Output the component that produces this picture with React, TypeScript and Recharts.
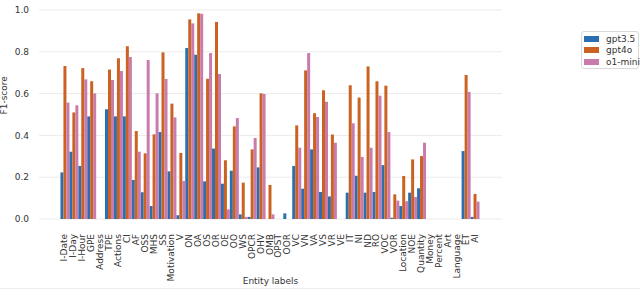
import React from "react";
import { BarChart, Bar, XAxis, YAxis, CartesianGrid, Legend } from "recharts";

const labels = [
  "I-Date", "I-Day", "I-Hour", "GPE", "Address", "TPE", "Actions", "CI", "AF", "OSS",
  "MHS", "SS", "Motivation", "V", "ON", "OA", "OS", "OR", "OE", "OO",
  "WS", "OPCR", "OHV", "OMB", "OPST", "OOR", "VC", "VN", "VA", "VS",
  "VR", "VE", "IT", "NI", "ND", "RO", "VOC", "VOR", "Location", "NOE",
  "Quantity", "Money", "Percent", "Art", "Language", "ET", "AI",
];

const gpt35 = [
  0.223, 0.322, 0.254, 0.491, 0, 0.525, 0.491, 0.491, 0.187, 0.128,
  0.062, 0.416, 0.228, 0.018, 0.818, 0.786, 0.18, 0.337, 0.169, 0.231,
  0.022, 0.01, 0.247, 0, 0, 0.027, 0.254, 0.145, 0.333, 0.129,
  0.108, 0, 0.126, 0.207, 0.126, 0.129, 0.258, 0.006, 0.062, 0.126,
  0.147, 0, 0, 0, 0, 0.325, 0.01,
];

const gpt4o = [
  0.732, 0.51, 0.722, 0.659, 0, 0.715, 0.769, 0.826, 0.421, 0.314,
  0.405, 0.797, 0.552, 0.316, 0.955, 0.984, 0.671, 0.943, 0.281, 0.443,
  0.174, 0.333, 0.601, 0.163, 0, 0, 0.448, 0.711, 0.506, 0.616,
  0.404, 0, 0.64, 0.581, 0.73, 0.659, 0.638, 0.118, 0.206, 0.285,
  0.301, 0, 0, 0, 0, 0.689, 0.12,
];

const o1mini = [
  0.557, 0.544, 0.668, 0.601, 0, 0.665, 0.708, 0.775, 0.322, 0.761,
  0.601, 0.67, 0.486, 0.182, 0.936, 0.982, 0.794, 0.694, 0.046, 0.483,
  0.01, 0.388, 0.598, 0.022, 0, 0, 0.341, 0.794, 0.488, 0.561,
  0.365, 0, 0.458, 0.297, 0.341, 0.59, 0.416, 0.088, 0.085, 0.105,
  0.365, 0, 0, 0, 0, 0.608, 0.083,
];

const yTicks = [0, 0.2, 0.4, 0.6, 0.8, 1.0];

const series = [
  { key: "gpt35", name: "gpt3.5", color: "#2b6fb0" },
  { key: "gpt4o", name: "gpt4o", color: "#cb6221" },
  { key: "o1mini", name: "o1-mini", color: "#c97bab" },
];

const data = labels.map((label, i) => ({
  label,
  gpt35: gpt35[i],
  gpt4o: gpt4o[i],
  o1mini: o1mini[i],
}));

const FONT = "DejaVu Sans, sans-serif";

function RotatedTick(props: any) {
  const { x, y, payload } = props;
  return (
    <text
      transform={`translate(${x + 3},${y + 7}) rotate(-90)`}
      textAnchor="end"
      fontSize={9}
      fill="#333"
      fontFamily={FONT}
    >
      {payload.value}
    </text>
  );
}

function LegendBox() {
  return (
    <div
      style={{
        boxSizing: "border-box",
        width: 58,
        height: 38,
        border: "1px solid #d9d9d9",
        borderRadius: 3,
        padding: "1px 0 0 2px",
        background: "#fff",
        fontFamily: FONT,
        fontSize: 9,
        color: "#333",
        whiteSpace: "nowrap",
      }}
    >
      {series.map((s) => (
        <div key={s.key} style={{ display: "flex", alignItems: "center", height: 11.5 }}>
          <span style={{ width: 15, height: 6, background: s.color, marginRight: 7, flex: "none" }} />
          <span>{s.name}</span>
        </div>
      ))}
    </div>
  );
}

export default function App() {
  return (
    <div style={{ position: "fixed", left: 0, top: 0, width: 640, height: 300, background: "#fff" }}>
      <BarChart
        width={640}
        height={300}
        data={data}
        margin={{ top: 10, right: 80, bottom: 0, left: 0 }}
        barCategoryGap="5%"
        barGap={0}
      >
        <CartesianGrid vertical={false} stroke="#ebebeb" />
        <XAxis
          dataKey="label"
          interval={0}
          height={81}
          padding={{ left: 21, right: 23 }}
          axisLine={false}
          tickLine={false}
          tick={<RotatedTick />}
          label={{
            value: "Entity labels",
            position: "insideBottom",
            offset: 16,
            fontSize: 9,
            fill: "#333",
            fontFamily: FONT,
          }}
        />
        <YAxis
          width={39}
          domain={[0, 1]}
          ticks={yTicks}
          tickFormatter={(v: number) => v.toFixed(1)}
          axisLine={false}
          tickLine={false}
          tick={{ fontSize: 9, fill: "#333", fontFamily: FONT }}
          tickMargin={4}
          label={{
            value: "F1-score",
            angle: -90,
            position: "insideLeft",
            offset: 4,
            fontSize: 9,
            fill: "#333",
            fontFamily: FONT,
          }}
        />
        <Legend
          layout="vertical"
          verticalAlign="top"
          align="right"
          wrapperStyle={{ left: 581, top: 31, width: 58 }}
          content={() => <LegendBox />}
        />
        {series.map((s) => (
          <Bar
            key={s.key}
            dataKey={s.key}
            name={s.name}
            fill={s.color}
            isAnimationActive={false}
          />
        ))}
      </BarChart>
      <div
        style={{
          position: "absolute",
          left: 0,
          top: 288,
          width: 640,
          borderTop: "1px solid #ececec",
        }}
      />
    </div>
  );
}
